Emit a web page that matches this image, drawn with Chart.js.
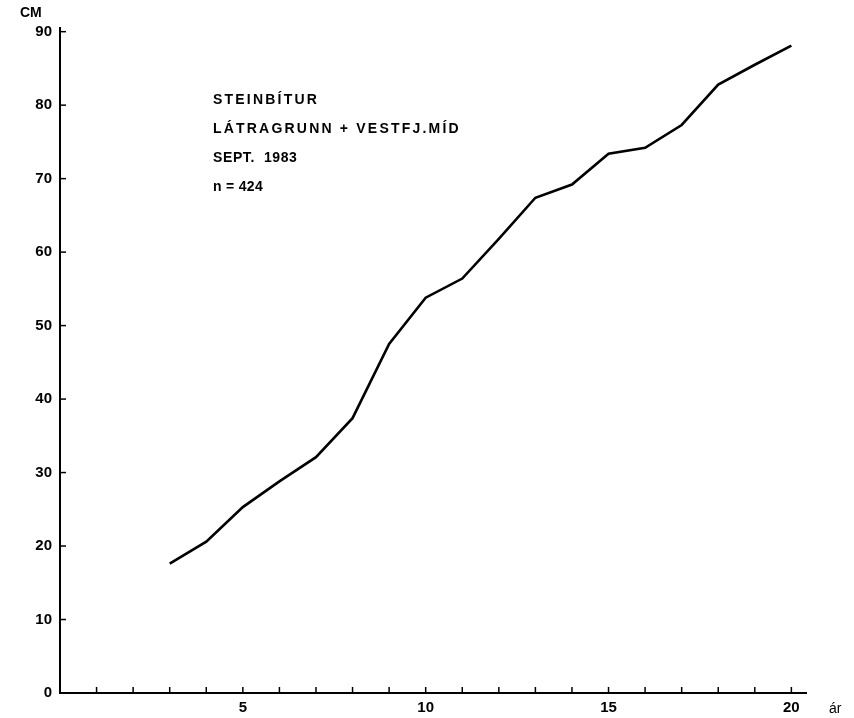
<!DOCTYPE html>
<html>
<head>
<meta charset="utf-8">
<script src="https://cdn.jsdelivr.net/npm/chart.js@4/dist/chart.umd.min.js"></script>
<style>
html,body{margin:0;padding:0;background:#fff;}
#wrap{width:854px;height:718px;position:relative;}
</style>
</head>
<body>
<div id="wrap"><canvas id="c" width="854" height="718"></canvas></div>
<script>
const ages = [3, 4, 5, 6, 7, 8, 9, 10, 11, 12, 13, 14, 15, 16, 17, 18, 19, 20];
const lengthCm = [17.6, 20.6, 25.3, 28.8, 32.1, 37.4, 47.5, 53.8, 56.4, 61.8, 67.4, 69.2, 73.4, 74.2, 77.3, 82.8, 85.5, 88.1];
const xTickLabels = [5, 10, 15, 20];
const yTickValues = [0, 10, 20, 30, 40, 50, 60, 70, 80, 90];
const noteLines = ["STEINBÍTUR", "LÁTRAGRUNN + VESTFJ.MÍD", "SEPT.  1983", "n = 424"];
const yAxisTitle = "CM";
const xAxisTitle = "ár";

const FONT = "'Liberation Sans', Arial, sans-serif";
const noteSpacing = ['2.2px', '2.2px', '0.6px', '0.3px'];

const extras = {
  id: 'extras',
  afterDraw(chart) {
    const ctx = chart.ctx;
    const xs = chart.scales.x, ys = chart.scales.y;
    ctx.save();
    ctx.strokeStyle = '#000';
    ctx.lineWidth = 1.5;
    for (let v = 1; v <= 20; v++) {
      const px = xs.getPixelForValue(v);
      ctx.beginPath();
      ctx.moveTo(px, ys.bottom);
      ctx.lineTo(px, ys.bottom - 6);
      ctx.stroke();
    }
    yTickValues.forEach(v => {
      const py = ys.getPixelForValue(v);
      ctx.beginPath();
      ctx.moveTo(xs.left, py);
      ctx.lineTo(xs.left + 6, py);
      ctx.stroke();
    });
    ctx.fillStyle = '#000';
    ctx.font = 'bold 14px ' + FONT;
    ctx.textAlign = 'left';
    ctx.textBaseline = 'middle';
    ctx.fillText(yAxisTitle, 20, 13);
    ctx.font = '14px ' + FONT;
    ctx.fillText(xAxisTitle, 829, 709);
    ctx.font = 'bold 14px ' + FONT;
    const startY = 100, step = 29;
    noteLines.forEach((t, i) => {
      if ('letterSpacing' in ctx) ctx.letterSpacing = noteSpacing[i];
      ctx.fillText(t, 213, startY + i * step);
    });
    ctx.restore();
  }
};

new Chart(document.getElementById('c'), {
  type: 'line',
  data: {
    labels: ages,
    datasets: [{
      data: ages.map((a, i) => ({x: a, y: lengthCm[i]})),
      borderColor: '#000',
      borderWidth: 2.6,
      pointRadius: 0,
      tension: 0,
      fill: false
    }]
  },
  options: {
    responsive: false,
    animation: false,
    layout: {padding: {left: 0, right: 48, top: 28, bottom: 0}},
    plugins: {legend: {display: false}, tooltip: {enabled: false}},
    scales: {
      x: {
        type: 'linear',
        min: 0, max: 20.4,
        afterFit: s => { s.height = 25; },
        grid: {display: false, drawTicks: false},
        border: {display: true, color: '#000', width: 2},
        afterBuildTicks: s => { s.ticks = xTickLabels.map(v => ({value: v})); },
        ticks: {
          color: '#000', padding: 6, maxRotation: 0,
          font: {family: FONT, size: 15, weight: 'bold'},
          callback: v => String(v)
        }
      },
      y: {
        type: 'linear',
        min: 0, max: 90.5,
        afterFit: s => { s.width = 60; },
        grid: {display: false, drawTicks: false},
        border: {display: true, color: '#000', width: 2},
        afterBuildTicks: s => { s.ticks = yTickValues.map(v => ({value: v})); },
        ticks: {
          color: '#000', padding: 8,
          font: {family: FONT, size: 15, weight: 'bold'},
          callback: v => String(v)
        }
      }
    }
  },
  plugins: [extras]
});
</script>
</body>
</html>
